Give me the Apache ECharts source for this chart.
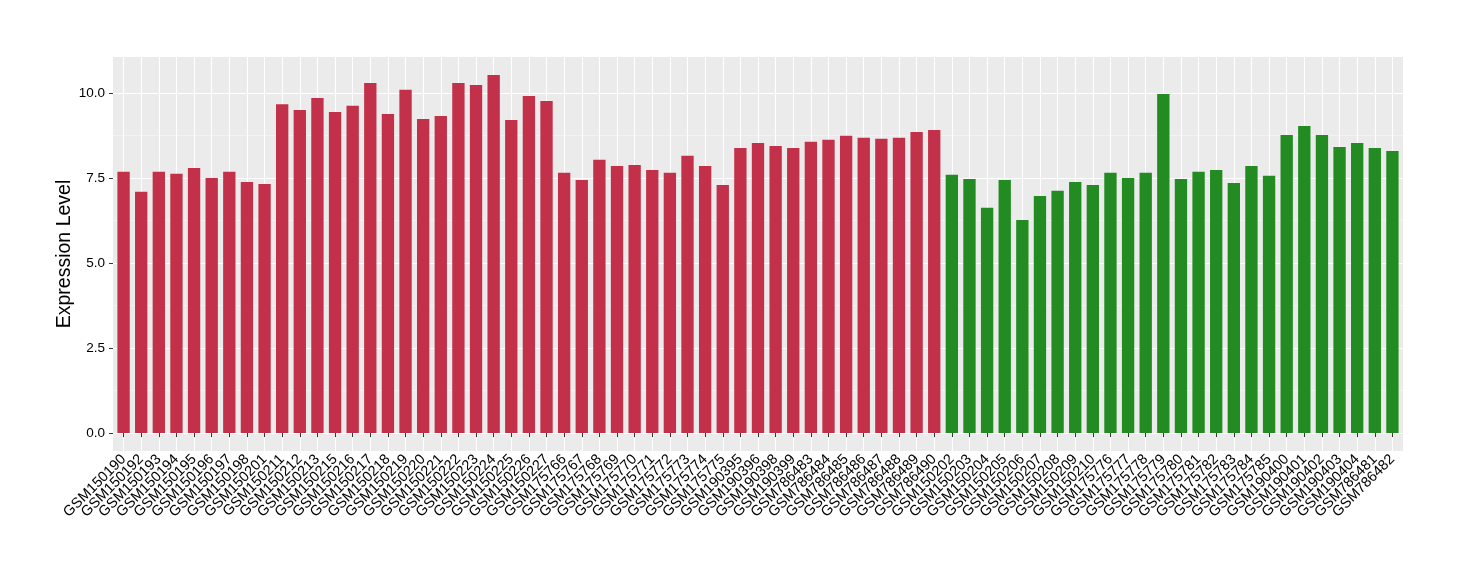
<!DOCTYPE html>
<html><head><meta charset="utf-8">
<script src="https://cdn.jsdelivr.net/npm/echarts@6/dist/echarts.min.js"></script>
<style>html,body{margin:0;padding:0;background:#fff}#c{width:1460px;height:580px}</style>
</head><body><div id="c"></div>
<script>
const redSamples = ['GSM150190','GSM150192','GSM150193','GSM150194','GSM150195','GSM150196','GSM150197','GSM150198','GSM150201',
  'GSM150211','GSM150212','GSM150213','GSM150215','GSM150216','GSM150217','GSM150218','GSM150219','GSM150220','GSM150221',
  'GSM150222','GSM150223','GSM150224','GSM150225','GSM150226','GSM150227',
  'GSM175766','GSM175767','GSM175768','GSM175769','GSM175770','GSM175771','GSM175772','GSM175773','GSM175774','GSM175775',
  'GSM190395','GSM190396','GSM190398','GSM190399',
  'GSM786483','GSM786484','GSM786485','GSM786486','GSM786487','GSM786488','GSM786489','GSM786490'];
const redValues = [7.69,7.10,7.69,7.63,7.80,7.51,7.69,7.39,7.33,
  9.68,9.51,9.86,9.45,9.63,10.30,9.39,10.10,9.24,9.33,
  10.30,10.24,10.54,9.21,9.92,9.77,
  7.66,7.45,8.04,7.86,7.89,7.74,7.66,8.16,7.86,7.30,
  8.39,8.54,8.45,8.39,
  8.57,8.63,8.75,8.69,8.66,8.69,8.86,8.92];
const greenSamples = ['GSM150202','GSM150203','GSM150204','GSM150205','GSM150206','GSM150207','GSM150208','GSM150209','GSM150210',
  'GSM175776','GSM175777','GSM175778','GSM175779','GSM175780','GSM175781','GSM175782','GSM175783','GSM175784','GSM175785',
  'GSM190400','GSM190401','GSM190402','GSM190403','GSM190404',
  'GSM786481','GSM786482'];
const greenValues = [7.60,7.48,6.63,7.45,6.27,6.98,7.13,7.39,7.30,
  7.66,7.51,7.66,9.98,7.48,7.69,7.74,7.36,7.86,7.57,
  8.77,9.04,8.77,8.42,8.54,
  8.39,8.30];
const yTickMax = 10;
const yMajorStep = 2.5;
const yMinorStep = 1.25;

const RED = '#C3304A', GREEN = '#228B22';
const categories = redSamples.concat(greenSamples);
const values = redValues.concat(greenValues);
const nCat = categories.length;

// panel layout (pixels)
const W = 1460, H = 580;
const PL = 113, PR = 1403, PT = 57, PB = 451;
const unit = (PR - PL) / (nCat - 1 + 1.2);
const M = Math.max(...values);
const ymin = -0.05 * M, ymax = 1.05 * M;
const pxPerVal = (PB - PT) / (ymax - ymin);
const y0 = PB - (0 - ymin) * pxPerVal;
const yTop = y0 - yTickMax * pxPerVal;

const chart = echarts.init(document.getElementById('c'), null, {renderer: 'canvas'});
const FONT = 'Liberation Sans, Arial, Helvetica, sans-serif';
chart.setOption({
  backgroundColor: '#fff',
  animation: false,
  grid: [
    {left: PL, right: W - PR, top: PT, bottom: H - PB, show: true, backgroundColor: '#EBEBEB', borderWidth: 0, z: -1},
    {left: PL, right: W - PR, top: yTop, bottom: H - y0},
    {left: PL + 0.6 * unit, right: W - (PR - 0.6 * unit), top: PT, bottom: H - PB}
  ],
  xAxis: [
    {gridIndex: 0, type: 'value', show: false},
    {gridIndex: 1, type: 'value', show: false},
    {gridIndex: 2, type: 'category', data: categories, boundaryGap: false,
     axisLine: {show: false},
     axisTick: {show: true, length: 4, lineStyle: {color: '#333', width: 1}},
     axisLabel: {interval: 0, rotate: 45, fontSize: 14.5, color: '#000', margin: 6, fontFamily: FONT},
     splitLine: {show: true, lineStyle: {color: '#fff', width: 1.1}}}
  ],
  yAxis: [
    {gridIndex: 0, type: 'value', min: 0, max: 1, position: 'left',
     axisLine: {show: false}, axisTick: {show: false}, axisLabel: {show: false}, splitLine: {show: false},
     name: 'Expression Level', nameLocation: 'middle', nameGap: 38,
     nameTextStyle: {fontSize: 19.5, color: '#000', fontFamily: FONT}},
    {gridIndex: 1, type: 'value', min: 0, max: yTickMax, interval: yMinorStep, position: 'left',
     axisLine: {show: false}, axisTick: {show: false}, axisLabel: {show: false},
     splitLine: {show: true, lineStyle: {color: '#F5F5F5', width: 0.8}}},
    {gridIndex: 1, type: 'value', min: 0, max: yTickMax, interval: yMajorStep, position: 'left',
     axisLine: {show: false},
     axisTick: {show: true, length: 4, lineStyle: {color: '#333', width: 1}},
     axisLabel: {fontSize: 13.5, color: '#000', margin: 8, fontFamily: FONT, formatter: v => v.toFixed(1)},
     splitLine: {show: true, lineStyle: {color: '#fff', width: 1.1}}},
    {gridIndex: 2, type: 'value', min: ymin, max: ymax, show: false}
  ],
  series: [{
    type: 'bar', xAxisIndex: 2, yAxisIndex: 3, clip: false,
    barWidth: 0.7 * unit,
    data: values,
    itemStyle: {color: p => p.dataIndex < redSamples.length ? RED : GREEN},
    z: 5
  }]
});
</script></body></html>
